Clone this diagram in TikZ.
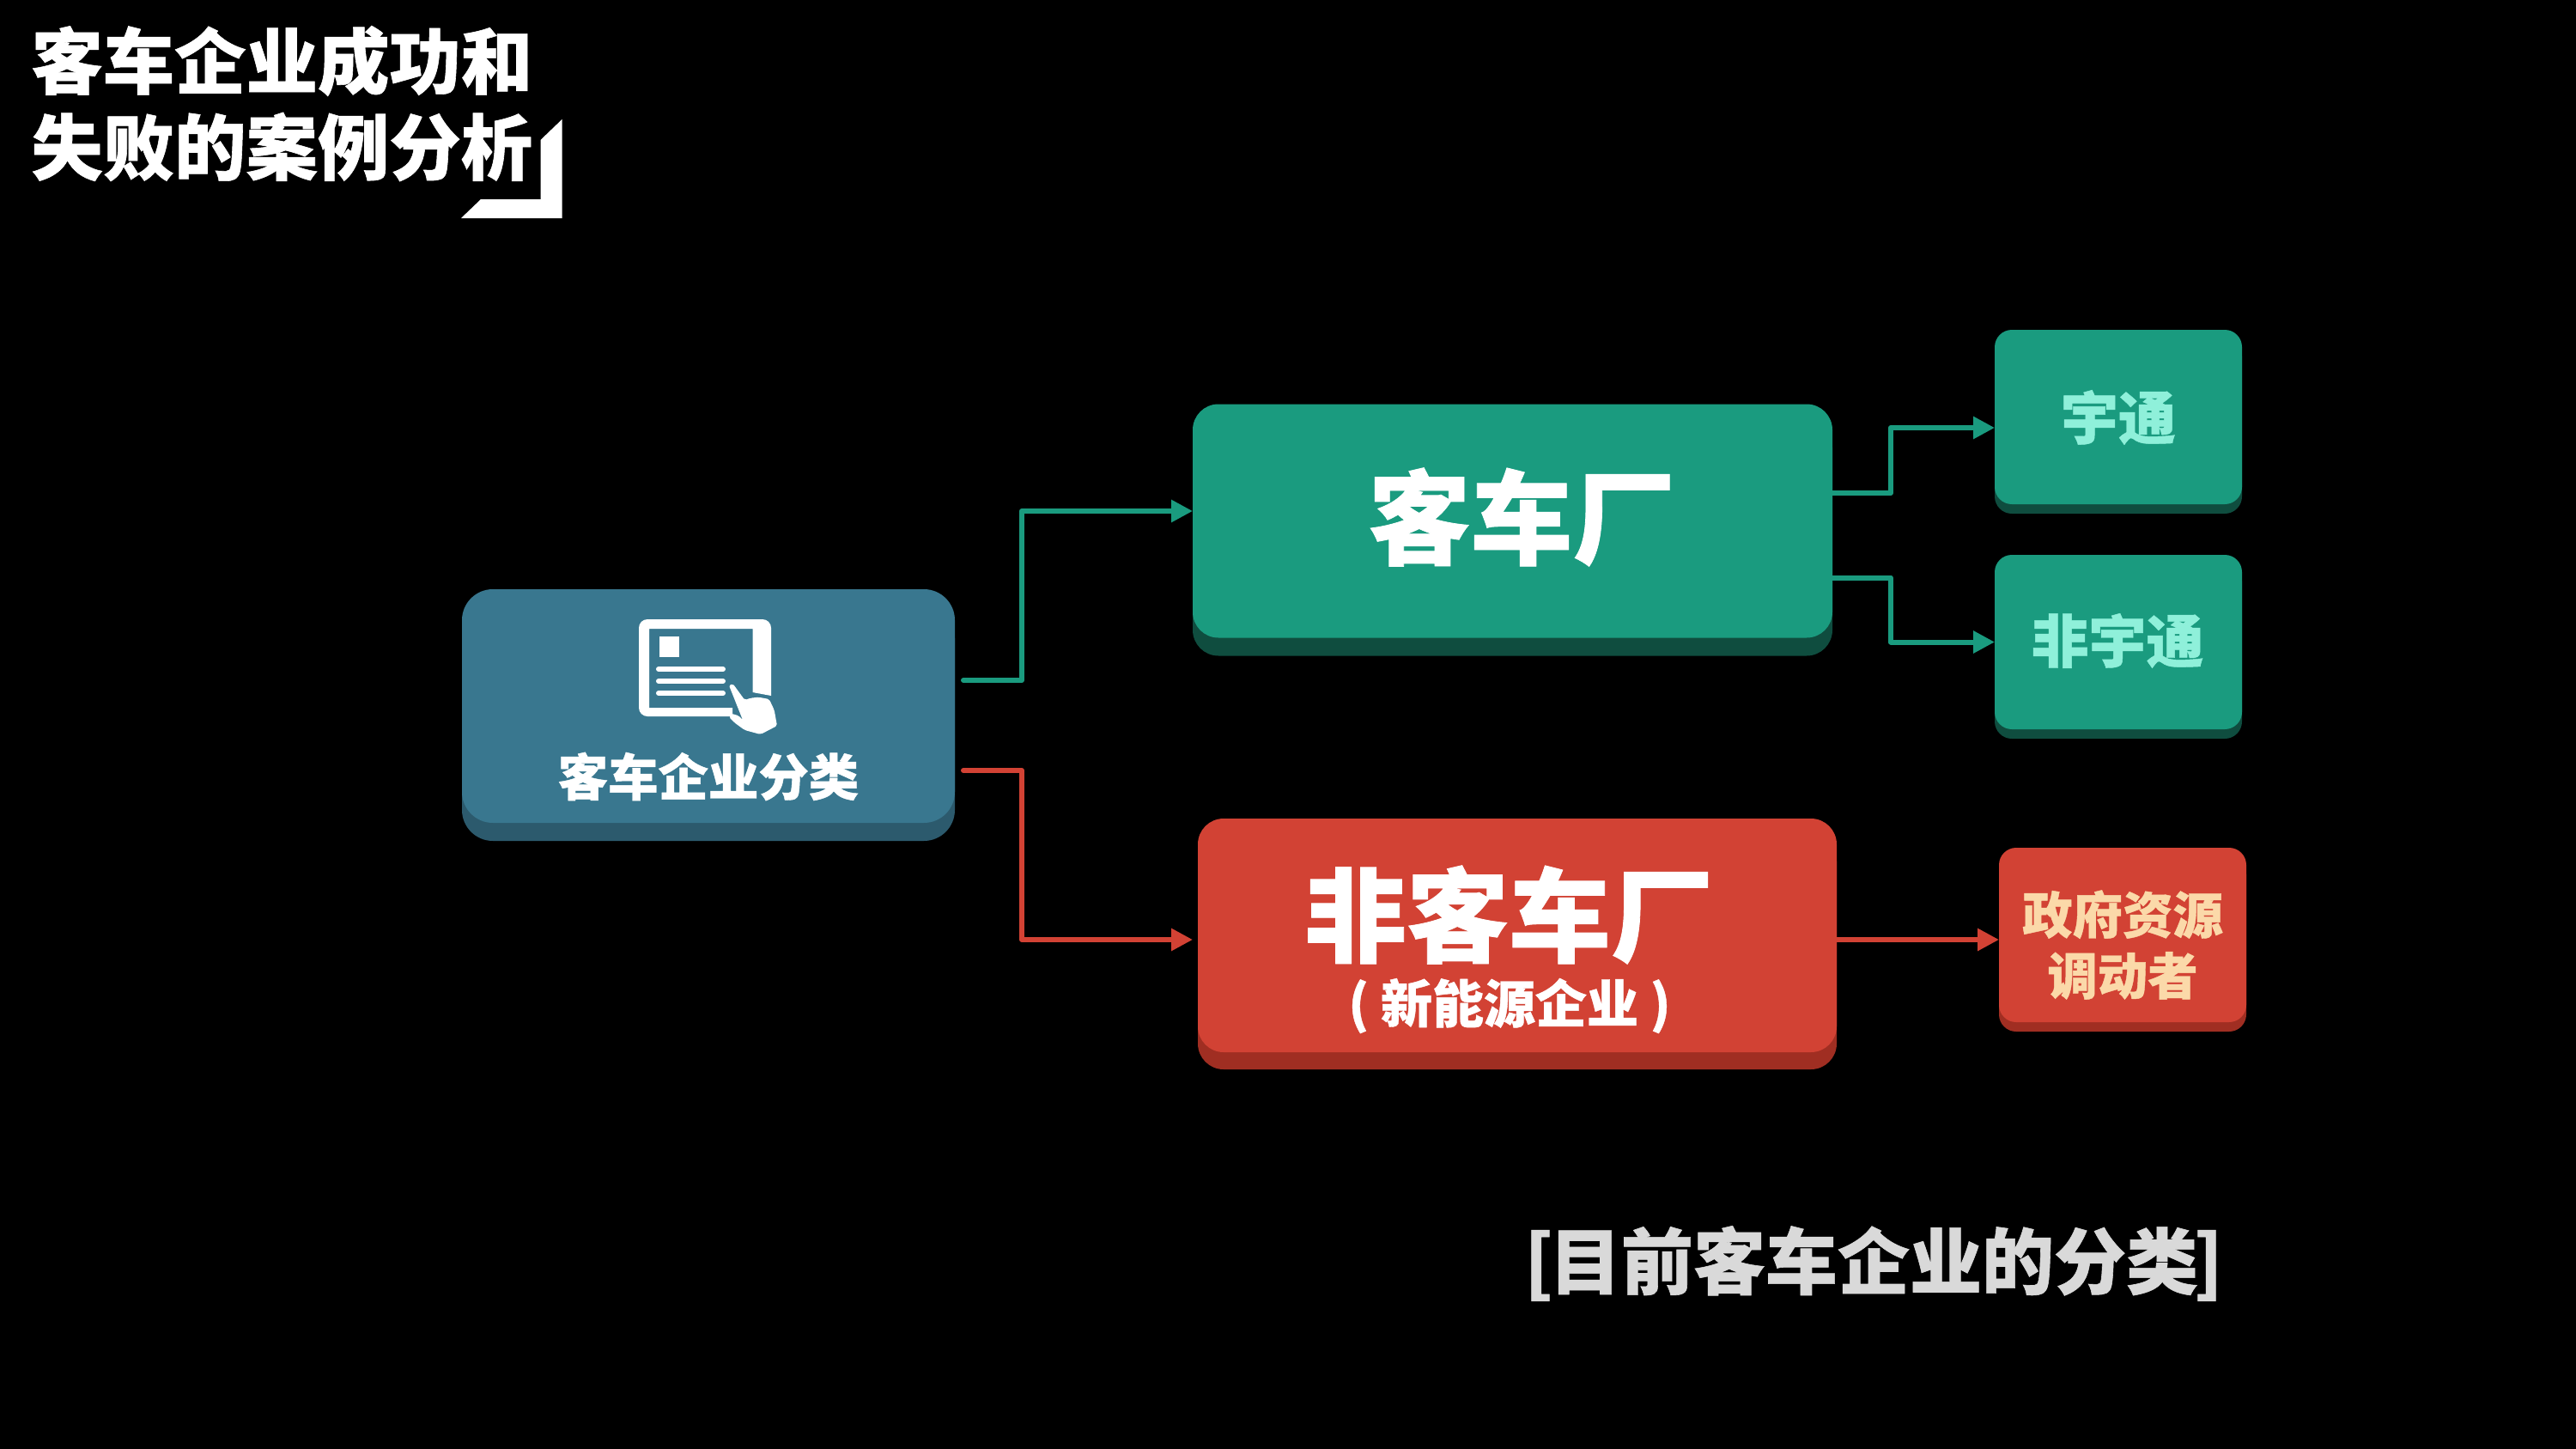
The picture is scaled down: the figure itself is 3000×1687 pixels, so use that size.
\documentclass[tikz,border=0pt]{standalone}
\usepackage{fontspec}
\usepackage{xcolor}
\usetikzlibrary{arrows.meta, shadows}
\newfontfamily\cjk{Noto Sans CJK SC}[BoldFeatures={FakeBold=0.7}]

\definecolor{bluefill}{HTML}{39778F}
\definecolor{blueside}{HTML}{2C5A6D}
\definecolor{greenfill}{HTML}{1A9B7F}
\definecolor{greenside}{HTML}{0F4D3F}
\definecolor{redfill}{HTML}{D24234}
\definecolor{redside}{HTML}{A02E22}
\definecolor{minttext}{HTML}{8FF0DA}
\definecolor{peachtext}{HTML}{FBD9A9}
\definecolor{capgray}{HTML}{D9D9D9}

\tikzset{
  slab/.style={inner sep=0pt, outer sep=0pt, align=center, font=\cjk\bfseries},
  bigbox/.style={slab, rounded corners=15pt, minimum width=#1, minimum height=136pt},
  smallbox/.style={slab, rounded corners=10pt, minimum width=144pt, minimum height=101.5pt},
  greenbox/.style={fill=greenfill, general shadow={fill=greenside, shadow yshift=-#1}},
  redbox/.style={fill=redfill, general shadow={fill=redside, shadow yshift=-#1}},
  link/.style={line width=3pt, line join=round, -{Triangle[length=12.5pt,width=12.5pt]}},
  title/.style={inner sep=0pt, anchor=west, text=white, font=\cjk\bfseries\fontsize{41.7pt}{50pt}\selectfont},
}

\begin{document}
\begin{tikzpicture}[x=0.5pt, y=-0.5pt]
  \useasboundingbox (0,0) rectangle (3000,1687);
  \fill[black] (0,0) rectangle (3000,1687);

  % heading
  \node[title] (headone) at (36,71) {客车企业成功和};
  \node[title] (headtwo) at (36,171) {失败的案例分析};
  \fill[white] (654.5,139) -- (654.5,254) -- (537,254) -- (560,232) -- (629.5,232) -- (629.5,163) -- cycle;

  % boxes
  \node[slab, rounded corners=18pt, minimum width=287pt, minimum height=136pt, fill=bluefill,
        general shadow={fill=blueside, shadow yshift=-10.5pt}] (sort) at (825,822) {};
  \node[bigbox=372.5pt, greenbox=10.5pt] (coach) at (1761.5,606.5) {};
  \node[bigbox=372pt, redbox=10pt] (noncoach) at (1767,1089) {};
  \node[smallbox, greenbox=5.5pt] (yutong) at (2467,485.5) {};
  \node[smallbox, greenbox=5.5pt] (nonyutong) at (2467,747.5) {};
  \node[smallbox, redbox=5.5pt] (govern) at (2472,1088.5) {};

  % texts
  \node[slab, text=white, font=\cjk\bfseries\fontsize{29.2pt}{35pt}\selectfont] (sortname) at (825,904) {客车企业分类};
  \node[slab, text=white, font=\cjk\bfseries\fontsize{59.5pt}{70pt}\selectfont] (coachname) at (1772,602) {客车厂};
  \node[slab, text=white, font=\cjk\bfseries\fontsize{59.5pt}{70pt}\selectfont] (noncoachname) at (1757,1065) {非客车厂};
  \node[slab, text=white, font=\cjk\bfseries\fontsize{30pt}{35pt}\selectfont] (noncoachnote) at (1758,1171) {( 新能源企业 )};
  \node[slab, text=minttext, font=\cjk\bfseries\fontsize{33.5pt}{40pt}\selectfont] (yutongname) at (2467,486) {宇通};
  \node[slab, text=minttext, font=\cjk\bfseries\fontsize{33.5pt}{40pt}\selectfont] (nonyutongname) at (2466,746) {非宇通};
  \node[slab, text=peachtext, font=\cjk\bfseries\fontsize{29.2pt}{35.5pt}\selectfont] (governname) at (2472,1100) {政府资源\\调动者};

  % icon
  \fill[white] (853,834) [rounded corners=5pt] -- (744,834) -- (744,721) -- (898,721) [sharp corners] -- (898,810)
    -- (876.5,806) -- (876.5,732) -- (756,732) -- (756,824) -- (853,824) -- cycle;
  \fill[white] (768,741) rectangle (791,765);
  \foreach \y in {779,793,807}
    \draw[white, line width=3pt, line cap=round] (767,\y) -- (842,\y);
  \fill[white, rounded corners=1pt] (849,798) -- (853.5,796) -- (867.3,815) -- (874.2,812.7) -- (883.4,811.7) -- (895.8,814)
    -- (901.7,826.7) -- (905,845) -- (885.7,855) -- (867.3,850) -- (855.8,841.7) -- (849,835) -- (851.2,830.7) -- (860.4,833.3) -- (865,838.3) -- cycle;

  % connectors
  \coordinate (greenout) at (1122,792);
  \coordinate (redout) at (1122,897);
  \draw[link, greenfill, line cap=round] (greenout) -- ++(68,0) |- ([yshift=5.75pt]coach.west);
  \draw[link, redfill, line cap=round] (redout) -- ++(68,0) |- ([xshift=-3pt,yshift=-2.5pt]noncoach.west);
  \draw[link, greenfill] ([yshift=16.25pt]coach.east) -- ++(68,0) |- ([yshift=-6.25pt]yutong.west);
  \draw[link, greenfill] ([yshift=-33pt]coach.east) -- ++(68,0) |- (nonyutong.west);
  \draw[link, redfill] ([yshift=-2.5pt]noncoach.east) -- ([yshift=-2.75pt]govern.west);

  % caption
  \node[slab, text=capgray, font=\cjk\bfseries\fontsize{42pt}{50pt}\selectfont] (caption) at (2182,1471) {[\kern-2.5pt目前客车企业的分类\kern-2.5pt]};
\end{tikzpicture}
\end{document}
